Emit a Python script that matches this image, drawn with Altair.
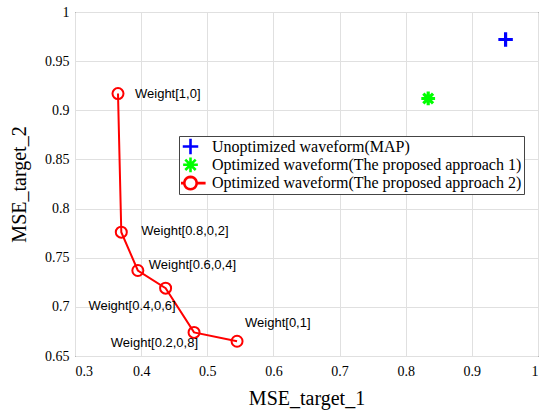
import math
import altair as alt
import pandas as pd

# ---- data ----
series_names = [
    "Unoptimized waveform(MAP)",
    "Optimized waveform(The proposed approach 1)",
    "Optimized waveform(The proposed approach 2)",
]
series_colors = ["#0000ff", "#00ff00", "#ff0000"]

map_x = [0.951]
map_y = [0.972]
app1_x = [0.834]
app1_y = [0.912]
app2_x = [0.365, 0.370, 0.395, 0.437, 0.480, 0.545]
app2_y = [0.917, 0.776, 0.737, 0.719, 0.674, 0.665]
weight_labels = ["Weight[1,0]", "Weight[0.8,0,2]", "Weight[0.6,0,4]",
                 "Weight[0.4,0,6]", "Weight[0.2,0,8]", "Weight[0,1]"]

x_ticks = [0.3, 0.4, 0.5, 0.6, 0.7, 0.8, 0.9, 1.0]
y_ticks = [0.65, 0.7, 0.75, 0.8, 0.85, 0.9, 0.95, 1.0]

# ---- tables ----
singles = pd.DataFrame({
    "x": map_x + app1_x,
    "y": map_y + app1_y,
    "series": [series_names[0]] * len(map_x) + [series_names[1]] * len(app1_x),
})
curve = pd.DataFrame({
    "x": app2_x, "y": app2_y, "label": weight_labels,
    "order": list(range(len(app2_x))),
    "series": [series_names[2]] * len(app2_x),
})

# symbol shapes (unit paths, all drawn at one symbol size)
PLUS = "M-1,0H1M0,-1V1"
STAR = ("M-0.95,0H0.95M0,-0.95V0.95"
        "M-0.67,-0.67L0.67,0.67M-0.67,0.67L0.67,-0.67")
_r = 0.8
_poly = " ".join(
    f"L{_r * math.cos(2 * math.pi * k / 24):.3f},{_r * math.sin(2 * math.pi * k / 24):.3f}"
    for k in range(1, 25)
)
CIRC_LINE = f"M-1.95,0H-{_r}M{_r},0H1.95M{_r},0" + _poly + "Z"

xs = alt.Scale(domain=[0.3, 1.0], nice=False, zero=False)
ys = alt.Scale(domain=[0.65, 1.0], nice=False, zero=False)

SERIF = "Liberation Serif"
axis_style = dict(labelFont=SERIF, labelFontSize=14, labelColor="black",
                  titleFont=SERIF, titleFontSize=20,
                  titleFontWeight="normal", titleColor="black", format="~g")
X = alt.X("x:Q", scale=xs, title="MSE_target_1",
          axis=alt.Axis(values=x_ticks, labelPadding=8, titlePadding=10, **axis_style))
Y = alt.Y("y:Q", scale=ys, title="MSE_target_2",
          axis=alt.Axis(values=y_ticks, labelPadding=6, titlePadding=15, **axis_style))

legend = alt.Legend(
    title=None, orient="none", legendX=104, legendY=124,
    labelFont=SERIF, labelFontSize=16, labelColor="black",
    strokeColor="#444444", fillColor="white", padding=2,
    rowPadding=1.3, clipHeight=17, labelOffset=12,
    symbolStrokeWidth=2.6, symbolSize=240,
    labelLimit=400,
)

single_pts = alt.Chart(singles).mark_point(
    filled=False, strokeWidth=3.2, opacity=1, size=210
).encode(
    x=X, y=Y,
    color=alt.Color("series:N", scale=alt.Scale(domain=series_names, range=series_colors), legend=legend),
    shape=alt.Shape("series:N", scale=alt.Scale(domain=series_names, range=[PLUS, STAR, CIRC_LINE]), legend=legend),
)

line = alt.Chart(curve).mark_line(color="#ff0000", strokeWidth=2).encode(
    x=X, y=Y, order="order:Q")
circles = alt.Chart(curve).mark_point(filled=False, shape="circle", color="#ff0000",
                                      strokeWidth=2, size=121, opacity=1).encode(x=X, y=Y)

# label placement (style, not data)
offsets = {
    "Weight[1,0]": ("left", 17, 0),
    "Weight[0.8,0,2]": ("left", 20, -1),
    "Weight[0.6,0,4]": ("left", 11, -5),
    "Weight[0.4,0,6]": ("right", 10, 18),
    "Weight[0.2,0,8]": ("right", 4, 11),
    "Weight[0,1]": ("left", 8, -18),
}
texts = []
for lab in weight_labels:
    al, dx, dy = offsets[lab]
    texts.append(
        alt.Chart(curve).transform_filter(alt.datum.label == lab).mark_text(
            align=al, baseline="middle", dx=dx, dy=dy,
            font="Liberation Sans", fontSize=13, color="black",
        ).encode(x=X, y=Y, text="label:N")
    )

chart = alt.layer(line, circles, single_pts, *texts).properties(
    width=463, height=344,
    background="white",
    autosize=alt.AutoSizeParams(type="none"),
    padding={"left": 75, "top": 12, "right": 3, "bottom": 54},
).configure(
    font=SERIF,
    style={"guide-label": {"font": SERIF, "fontSize": 14, "fill": "black"}},
).configure_view(
    stroke="black", strokeWidth=1, fill="white"
).configure_axis(
    labelFont=SERIF, labelFontSize=14,
    grid=True, gridColor="#e0e0e0", gridWidth=1,
    domain=False, ticks=False, tickSize=0,
)

chart.save("out.html", embed_options={"renderer": "svg", "actions": False})
